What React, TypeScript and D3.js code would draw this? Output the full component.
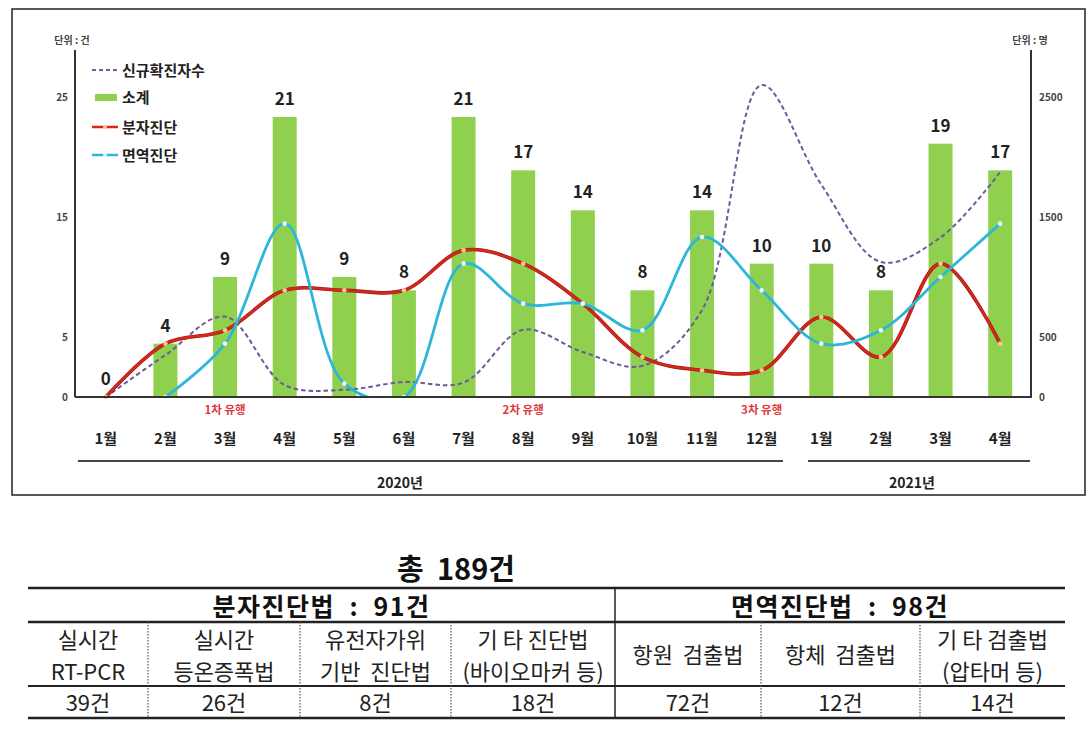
import * as d3 from "d3";

// monthly data, Jan 2020 - Apr 2021
const months = ["1월", "2월", "3월", "4월", "5월", "6월", "7월", "8월", "9월", "10월", "11월", "12월", "1월", "2월", "3월", "4월"];
const subtotal = [0, 4, 9, 21, 9, 8, 21, 17, 14, 8, 14, 10, 10, 8, 19, 17];
const molecular = [0, 4, 5, 8, 8, 8, 11, 10, 7, 3, 2, 2, 6, 3, 10, 4];
const immune: (number | null)[] = [null, 0, 4, 13, 1, 0, 10, 7, 7, 5, 12, 8, 4, 5, 9, 13];
const newCases = [0, 350, 670, 100, 60, 125, 120, 560, 375, 260, 725, 2600, 1770, 1125, 1330, 1875];

const leftTicks = [0, 5, 15, 25];
const rightTicks = [0, 500, 1500, 2500];
const waves = [
  { month: 2, label: "1차 유행" },
  { month: 7, label: "2차 유행" },
  { month: 11, label: "3차 유행" },
];
const years = [
  { label: "2020년", from: 0, to: 11 },
  { label: "2021년", from: 12, to: 15 },
];

// table below the chart
const tableTotal = "총  189건";
const groups = [
  { label: "분자진단법  :  91건", cols: 4 },
  { label: "면역진단법  :  98건", cols: 3 },
];
const methodNames = [
  ["실시간", "RT-PCR"],
  ["실시간", "등온증폭법"],
  ["유전자가위", "기반  진단법"],
  ["기 타 진단법", "(바이오마커 등)"],
  ["항원  검출법"],
  ["항체  검출법"],
  ["기 타 검출법", "(압타머 등)"],
];
const methodCounts = ["39건", "26건", "8건", "18건", "72건", "12건", "14건"];
const colEdges = [28, 148, 300, 451, 615, 761, 920, 1065];

const FONT = "'Noto Sans CJK KR', 'Noto Sans', sans-serif";
const GREEN = "#8fd14f";
const RED = "#d8261d";
const BLUE = "#2bb6da";
const PURPLE = "#6c5a9c";

export default function App() {
  const width = 1090;
  const height = 736;
  const base = 397;
  const top = 97;
  const axisL = 75;
  const axisR = 1031;

  const x = d3.scaleBand<number>().domain(d3.range(months.length)).range([76, 1030]);
  const cx = (i: number) => (x(i) ?? 0) + x.bandwidth() / 2;
  const yBar = d3.scaleLinear().domain([0, 22.5]).range([base, top]);
  const yLeft = d3.scaleLinear().domain([0, 25]).range([base, top]);
  const yRight = d3.scaleLinear().domain([0, 2500]).range([base, top]);
  const barW = 24;

  const curve = d3.curveCatmullRom.alpha(0.5);
  const casesLine = d3.line<number>().x((_, i) => cx(i)).y((d) => yRight(d)).curve(curve);
  const countLine = d3
    .line<number | null>()
    .defined((d) => d !== null)
    .x((_, i) => cx(i))
    .y((d) => yBar(d as number))
    .curve(curve);

  const rowTop = 588;
  const rowHead = 622;
  const rowMid = 686;
  const rowBot = 718;

  let colIdx = 0;
  const groupSpans = groups.map((g) => {
    const s = { ...g, x0: colEdges[colIdx], x1: colEdges[colIdx + g.cols] };
    colIdx += g.cols;
    return s;
  });

  return (
    <svg width={width} height={height} style={{ position: "absolute", left: 0, top: 0, background: "#fff" }} fontFamily={FONT}>
      <defs>
        <clipPath id="plot">
          <rect x={axisL} y={0} width={axisR - axisL} height={base} />
        </clipPath>
      </defs>
      <rect x={12} y={9} width={1073} height={486} fill="none" stroke="#222" strokeWidth={1.5} />

      {/* units */}
      <text x={72} y={44} fontSize={10} fontWeight={700} fill="#444" textAnchor="middle">단위 : 건</text>
      <text x={1030} y={44} fontSize={10} fontWeight={700} fill="#444" textAnchor="middle">단위 : 명</text>

      {/* bars */}
      {subtotal.map((v, i) => (
        <g key={"b" + i}>
          <rect x={cx(i) - barW / 2} y={yBar(v)} width={barW} height={base - yBar(v)} fill={GREEN} />
          <text x={cx(i)} y={yBar(v) - 12} fontSize={17} fontWeight={700} fill="#222" textAnchor="middle">{v}</text>
        </g>
      ))}

      <g clipPath="url(#plot)">
        <path d={casesLine(newCases) ?? ""} fill="none" stroke={PURPLE} strokeWidth={2} strokeDasharray="4.5,3" />
        <path d={countLine(molecular) ?? ""} fill="none" stroke="#9a1c12" strokeWidth={3.6} />
        <path d={countLine(molecular) ?? ""} fill="none" stroke={RED} strokeWidth={2.4} />
        <path d={countLine(immune) ?? ""} fill="none" stroke={BLUE} strokeWidth={2.8} />
      </g>
      {molecular.map((v, i) => (
        <circle key={"m" + i} cx={cx(i)} cy={yBar(v)} r={2.3} fill="#f8c98a" />
      ))}
      {immune.map((v, i) =>
        v === null ? null : <circle key={"im" + i} cx={cx(i)} cy={yBar(v)} r={2.3} fill="#e6f7ff" />
      )}

      {/* axes */}
      <line x1={axisL} x2={axisL} y1={50} y2={base} stroke="#333" strokeWidth={2} />
      <line x1={axisR} x2={axisR} y1={50} y2={base} stroke="#333" strokeWidth={2} />
      <line x1={axisL} x2={axisR + 1} y1={base} y2={base} stroke="#333" strokeWidth={2} />
      {leftTicks.map((t) => (
        <text key={"lt" + t} x={68} y={yLeft(t) + 3.5} fontSize={10} fontWeight={700} fill="#444" textAnchor="end">{t}</text>
      ))}
      {rightTicks.map((t) => (
        <text key={"rt" + t} x={1039} y={yRight(t) + 3.5} fontSize={10} fontWeight={700} fill="#444">{t}</text>
      ))}

      {/* month labels, waves, years */}
      {months.map((m, i) => (
        <text key={"mo" + i} x={cx(i)} y={444} fontSize={15} fontWeight={700} fill="#222" textAnchor="middle">{m}</text>
      ))}
      {waves.map((w) => (
        <text key={w.label} x={cx(w.month)} y={414} fontSize={11.5} fontWeight={700} fill="#e0393e" textAnchor="middle">{w.label}</text>
      ))}
      {years.map((yr, k) => (
        <g key={yr.label}>
          <line x1={k === 0 ? 78 : 808} x2={k === 0 ? 783 : 1030} y1={461} y2={461} stroke="#444" strokeWidth={2} />
          <text x={k === 0 ? 400 : 912} y={488} fontSize={14} fontWeight={700} fill="#222" textAnchor="middle">{yr.label}</text>
        </g>
      ))}

      {/* legend */}
      <line x1={92} x2={118} y1={70} y2={70} stroke={PURPLE} strokeWidth={2} strokeDasharray="4,3" />
      <text x={122} y={76} fontSize={15} fontWeight={700} fill="#222">신규확진자수</text>
      <rect x={95} y={94} width={22} height={7} fill={GREEN} />
      <text x={122} y={103} fontSize={15} fontWeight={700} fill="#222">소계</text>
      <line x1={92} x2={118} y1={127} y2={127} stroke={RED} strokeWidth={2.5} />
      <circle cx={105} cy={127} r={2} fill="#f8c98a" />
      <text x={122} y={133} fontSize={15} fontWeight={700} fill="#222">분자진단</text>
      <line x1={92} x2={118} y1={155} y2={155} stroke={BLUE} strokeWidth={2.5} />
      <circle cx={105} cy={155} r={2} fill="#e6f7ff" />
      <text x={122} y={161} fontSize={15} fontWeight={700} fill="#222">면역진단</text>

      {/* table */}
      <text x={456} y={580} fontSize={29} fontWeight={700} fill="#111" textAnchor="middle" style={{ whiteSpace: "pre" }}>{tableTotal}</text>
      {[rowTop, rowHead, rowMid, rowBot].map((yy, k) => (
        <line key={"h" + k} x1={colEdges[0]} x2={colEdges[colEdges.length - 1]} y1={yy} y2={yy} stroke="#222" strokeWidth={k === 2 ? 2 : 2.5} />
      ))}
      <line x1={colEdges[4]} x2={colEdges[4]} y1={rowTop} y2={rowBot} stroke="#222" strokeWidth={1.5} />
      {colEdges.slice(1, -1).map((e, k) =>
        k === 3 ? null : (
          <line key={"v" + k} x1={e} x2={e} y1={rowHead} y2={rowBot} stroke="#555" strokeWidth={1.2} strokeDasharray="1.5,1.5" />
        )
      )}
      {groupSpans.map((g) => (
        <text key={g.label} x={(g.x0 + g.x1) / 2} y={616} fontSize={25} fontWeight={700} fill="#111" textAnchor="middle" letterSpacing={1.5} style={{ whiteSpace: "pre" }}>
          {g.label}
        </text>
      ))}
      {methodNames.map((lines, i) => {
        const mx = (colEdges[i] + colEdges[i + 1]) / 2;
        return lines.length === 1 ? (
          <text key={"n" + i} x={mx} y={663} fontSize={22} fill="#222" textAnchor="middle" style={{ whiteSpace: "pre" }}>{lines[0]}</text>
        ) : (
          <g key={"n" + i}>
            <text x={mx} y={648} fontSize={22} fill="#222" textAnchor="middle" style={{ whiteSpace: "pre" }}>{lines[0]}</text>
            <text x={mx} y={680} fontSize={22} fill="#222" textAnchor="middle" style={{ whiteSpace: "pre" }}>{lines[1]}</text>
          </g>
        );
      })}
      {methodCounts.map((c, i) => (
        <text key={"c" + i} x={(colEdges[i] + colEdges[i + 1]) / 2} y={711} fontSize={22} fill="#222" textAnchor="middle">{c}</text>
      ))}
    </svg>
  );
}
